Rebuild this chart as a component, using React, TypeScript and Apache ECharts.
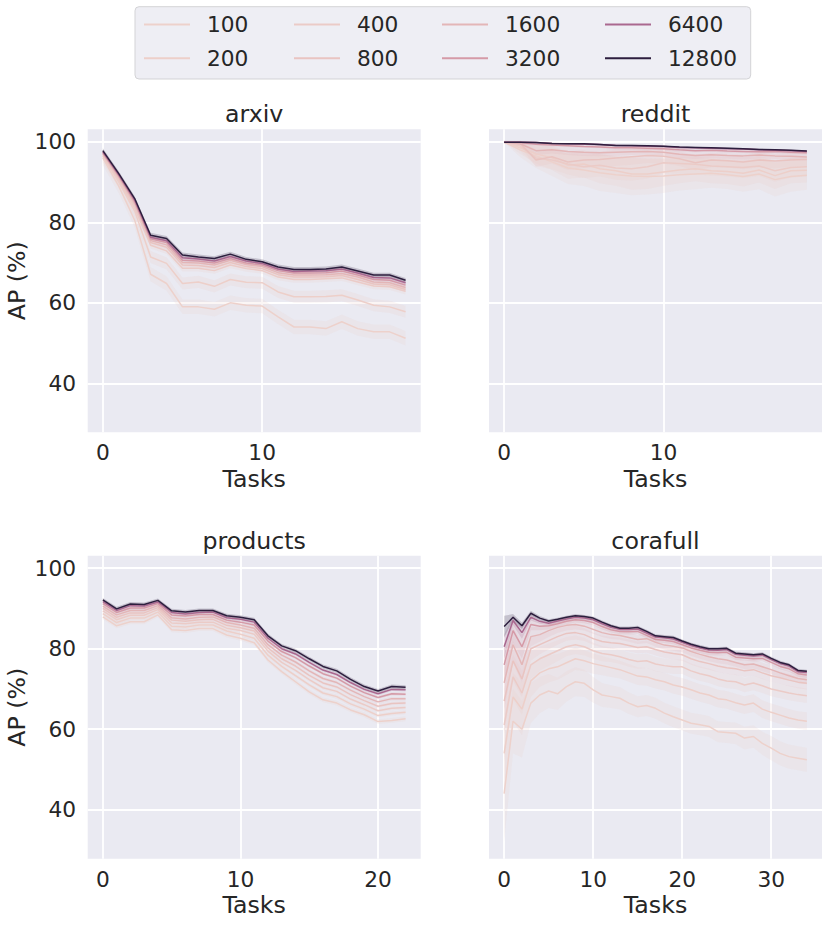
import React, { useEffect, useRef } from 'react';
import * as echarts from 'echarts';

// ---------- data ----------
const budgets = ['100', '200', '400', '800', '1600', '3200', '6400', '12800'];
const budgetValues = [100, 200, 400, 800, 1600, 3200, 6400, 12800];
const panelTitles = ['arxiv', 'reddit', 'products', 'corafull'];
const yTicks = [40, 60, 80, 100];
const arxivXTicks = [0, 10];
const redditXTicks = [0, 10];
const productsXTicks = [0, 10, 20];
const corafullXTicks = [0, 10, 20, 30];

// mean AP (%) per budget, order of `budgets`
const arxivAP = [
  [96.0, 89.0, 80.5, 67.1, 64.8, 59.0, 59.0, 58.4, 60.0, 59.4, 59.2, 56.5, 54.0, 54.0, 53.6, 55.3, 53.6, 52.8, 52.8, 51.2],
  [96.4, 90.0, 82.8, 71.4, 69.8, 64.8, 65.2, 64.1, 65.8, 65.1, 65.0, 62.7, 61.5, 61.5, 61.6, 61.9, 60.7, 59.4, 59.0, 57.8],
  [96.6, 90.5, 83.5, 74.3, 72.9, 68.6, 68.6, 68.0, 69.4, 68.5, 68.0, 66.4, 65.8, 65.8, 66.0, 66.2, 65.2, 64.2, 64.0, 62.9],
  [96.9, 91.0, 84.3, 75.0, 73.8, 69.4, 69.3, 68.8, 70.0, 69.0, 68.5, 67.0, 66.4, 66.4, 66.5, 66.8, 65.8, 64.7, 64.5, 63.3],
  [97.1, 91.3, 84.8, 75.5, 74.4, 70.0, 69.9, 69.4, 70.6, 69.5, 69.0, 67.5, 66.9, 66.9, 67.0, 67.3, 66.4, 65.2, 65.0, 63.8],
  [97.3, 91.6, 85.2, 75.9, 75.0, 70.6, 70.4, 69.9, 71.0, 69.9, 69.4, 68.0, 67.4, 67.4, 67.5, 67.9, 66.9, 65.8, 65.6, 64.4],
  [97.5, 91.8, 85.5, 76.3, 75.4, 71.2, 70.9, 70.4, 71.5, 70.4, 69.8, 68.4, 67.8, 67.9, 68.0, 68.4, 67.4, 66.3, 66.2, 65.0],
  [97.8, 92.1, 85.9, 76.8, 76.0, 71.9, 71.4, 71.0, 72.1, 70.8, 70.2, 68.9, 68.3, 68.3, 68.4, 68.9, 67.9, 66.9, 66.9, 65.6],
];
const arxivCI = [1.8, 1.5, 0.8, 0.6, 0.5, 0.5, 0.5, 0.6];

const redditAP = [
  [99.9, 98.0, 96.5, 95.0, 93.5, 93.0, 92.3, 91.8, 91.5, 91.4, 91.5, 91.8, 92.0, 92.2, 91.8, 91.4, 92.0, 90.6, 91.4, 91.7],
  [99.9, 98.5, 97.0, 96.0, 94.2, 94.5, 93.3, 92.8, 92.0, 92.0, 92.5, 93.0, 93.3, 92.8, 92.6, 92.2, 93.0, 91.6, 92.8, 92.9],
  [99.9, 99.0, 96.0, 95.5, 94.5, 93.8, 94.2, 93.5, 93.3, 93.8, 94.8, 94.6, 94.4, 94.0, 93.8, 93.6, 94.0, 92.8, 93.6, 93.8],
  [99.9, 99.6, 95.5, 96.3, 95.0, 95.5, 95.6, 96.0, 96.3, 96.6, 96.4, 95.8, 94.8, 95.5, 95.3, 95.0, 95.5, 95.2, 95.5, 95.6],
  [99.9, 99.5, 97.8, 98.0, 97.6, 97.4, 97.3, 97.4, 97.5, 97.6, 97.4, 96.9, 96.6, 96.8, 96.6, 96.5, 96.7, 96.5, 96.4, 96.2],
  [99.9, 99.8, 99.4, 99.2, 99.0, 98.8, 98.7, 98.5, 98.5, 98.4, 98.3, 98.0, 97.8, 97.9, 97.7, 97.6, 97.5, 97.6, 97.4, 97.3],
  [99.9, 99.9, 99.8, 99.6, 99.5, 99.4, 99.3, 99.1, 99.0, 98.9, 98.8, 98.6, 98.5, 98.4, 98.3, 98.2, 98.0, 97.9, 97.8, 97.6],
  [99.9, 99.9, 99.8, 99.6, 99.5, 99.5, 99.3, 99.1, 99.1, 99.0, 98.9, 98.7, 98.6, 98.5, 98.4, 98.3, 98.1, 98.0, 97.9, 97.7],
];
const redditCI = [
  [0, 1.8, 3.0, 3.5, 4.0, 4.0, 4.5, 4.5, 4.8, 4.5, 4.2, 3.9, 3.8, 3.6, 3.5, 3.8, 3.8, 4.2, 3.8, 3.6],
  [0, 1.5, 2.4, 3.0, 3.4, 3.4, 3.6, 3.7, 3.9, 3.7, 3.4, 3.3, 3.1, 3.1, 3.1, 3.3, 3.1, 3.3, 3.1, 3.0],
  [0, 1.2, 2.0, 2.3, 2.6, 2.8, 2.8, 2.9, 3.0, 2.9, 2.6, 2.5, 2.5, 2.4, 2.4, 2.6, 2.5, 2.7, 2.5, 2.4],
  [0, 0.7, 1.7, 1.7, 2.0, 2.0, 2.0, 2.0, 2.0, 1.9, 1.8, 1.8, 1.9, 1.8, 1.7, 1.8, 1.8, 1.8, 1.7, 1.7],
  [0, 0.4, 1.1, 0.9, 0.9, 0.9, 0.9, 0.9, 0.8, 0.8, 0.8, 0.9, 0.9, 0.8, 0.8, 0.9, 0.8, 0.8, 0.8, 0.8],
  0.4,
  0.2,
  0.15,
];

const productsAP = [
  [87.9, 85.7, 86.7, 86.7, 88.4, 84.7, 84.5, 85.0, 85.0, 83.4, 82.6, 81.5, 77.2, 74.3, 71.8, 69.3, 67.3, 66.5, 64.8, 63.6, 61.9, 62.2, 62.6],
  [88.7, 86.5, 87.6, 87.6, 89.1, 85.6, 85.4, 85.9, 85.9, 84.4, 83.6, 82.6, 78.4, 75.6, 73.3, 71.0, 69.0, 68.1, 66.3, 65.0, 63.4, 63.9, 64.2],
  [89.4, 87.2, 88.3, 88.3, 89.7, 86.4, 86.2, 86.6, 86.6, 85.1, 84.5, 83.6, 79.4, 76.6, 74.6, 72.3, 70.3, 69.4, 67.5, 66.1, 64.6, 65.2, 65.4],
  [90.0, 87.8, 88.9, 88.9, 90.2, 87.1, 86.8, 87.2, 87.3, 85.8, 85.2, 84.4, 80.2, 77.5, 75.7, 73.4, 71.5, 70.5, 68.6, 67.1, 65.7, 66.4, 66.5],
  [90.6, 88.4, 89.5, 89.5, 90.7, 87.7, 87.4, 87.8, 87.9, 86.5, 85.9, 85.1, 81.0, 78.4, 76.7, 74.5, 72.6, 71.6, 69.7, 68.1, 66.8, 67.6, 67.6],
  [91.2, 89.0, 90.1, 90.1, 91.2, 88.4, 88.1, 88.5, 88.5, 87.1, 86.6, 85.9, 81.9, 79.3, 77.8, 75.7, 73.8, 72.7, 70.7, 69.1, 67.9, 68.8, 68.7],
  [91.7, 89.5, 90.7, 90.6, 91.6, 89.0, 88.6, 89.0, 89.1, 87.7, 87.3, 86.6, 82.6, 80.0, 78.7, 76.6, 74.7, 73.6, 71.6, 69.9, 68.8, 69.9, 69.8],
  [92.1, 89.9, 91.1, 91.0, 92.0, 89.4, 89.1, 89.5, 89.5, 88.2, 87.8, 87.2, 83.2, 80.7, 79.5, 77.5, 75.6, 74.5, 72.4, 70.6, 69.5, 70.6, 70.4],
];
const productsCI = [0.6, 0.5, 0.5, 0.5, 0.5, 0.4, 0.4, 0.5];

const corafullAP = [
  [44.0, 62.0, 60.0, 66.5, 68.5, 69.5, 68.8, 70.6, 71.8, 71.4, 69.8, 68.5, 68.1, 67.7, 66.5, 65.6, 65.9, 65.2, 64.0, 63.1, 62.3, 61.5, 61.1, 60.7, 59.4, 59.2, 59.0, 57.8, 58.2, 56.5, 55.3, 54.0, 53.2, 52.8, 52.4],
  [54.0, 68.0, 65.0, 72.0, 74.0, 75.0, 75.5, 76.5, 77.5, 77.0, 76.3, 75.8, 75.3, 74.8, 74.0, 73.2, 73.0, 72.3, 71.8, 71.0, 70.5, 69.8, 69.0, 68.5, 67.6, 67.3, 66.6, 66.0, 66.5, 65.0, 64.2, 63.5, 62.8, 62.3, 62.0],
  [61.0, 73.0, 69.0, 76.0, 77.5, 78.5, 79.5, 80.5, 81.0, 80.5, 79.5, 78.8, 78.5, 78.0, 77.3, 76.8, 77.0, 76.2, 75.8, 75.5, 75.5, 74.5, 73.8, 73.3, 72.5, 72.0, 71.8, 71.0, 71.5, 70.8, 70.0, 69.5, 69.0, 68.6, 68.3],
  [67.0, 77.0, 72.5, 80.0, 81.0, 82.0, 83.0, 83.8, 84.0, 83.5, 82.5, 81.8, 81.5, 81.3, 80.8, 80.3, 80.5, 79.8, 79.2, 78.8, 78.5, 77.5, 76.8, 76.3, 75.7, 75.3, 75.0, 74.5, 74.8, 74.0, 73.3, 72.8, 72.2, 71.7, 71.4],
  [71.5, 81.0, 76.0, 83.0, 83.5, 84.5, 85.3, 85.8, 86.0, 85.6, 84.8, 84.0, 83.5, 83.3, 82.8, 82.3, 82.5, 81.6, 80.9, 80.6, 80.2, 79.3, 78.6, 78.0, 77.5, 77.2, 76.6, 76.0, 76.2, 75.5, 74.8, 74.0, 73.3, 72.6, 72.3],
  [76.0, 84.5, 80.5, 86.0, 85.6, 85.7, 86.2, 86.8, 87.2, 87.0, 86.5, 85.5, 84.7, 84.3, 84.2, 84.3, 83.3, 82.3, 82.1, 81.8, 81.0, 80.2, 79.6, 79.1, 79.0, 79.1, 77.9, 77.7, 77.5, 77.6, 76.6, 75.6, 75.0, 73.8, 73.5],
  [80.5, 87.0, 84.0, 87.8, 86.8, 86.3, 86.9, 87.4, 87.8, 87.6, 87.2, 86.2, 85.3, 84.8, 84.8, 84.9, 83.9, 82.9, 82.7, 82.4, 81.6, 80.8, 80.2, 79.7, 79.6, 79.8, 78.6, 78.4, 78.2, 78.4, 77.3, 76.3, 75.7, 74.3, 74.1],
  [85.5, 87.8, 85.7, 88.8, 87.6, 86.9, 87.3, 87.8, 88.2, 88.0, 87.6, 86.6, 85.7, 85.1, 85.1, 85.3, 84.3, 83.2, 83.0, 82.8, 81.9, 81.1, 80.5, 80.0, 80.0, 80.1, 78.9, 78.7, 78.5, 78.7, 77.6, 76.6, 76.0, 74.6, 74.4],
];
const corafullCI = [
  [12, 8, 7, 5, 4.5, 4.2, 4, 3.8, 3.6, 3.4, 3.2, 3, 2.8, 2.8, 2.7, 2.6, 2.6, 2.6, 2.6, 2.6, 2.6, 2.6, 2.6, 2.6, 2.6, 2.6, 2.7, 2.8, 2.8, 2.9, 3, 3, 3, 3, 3],
  [10, 6, 6.5, 4, 3.5, 3.4, 3.2, 3, 2.8, 2.6, 2.5, 2.4, 2.3, 2.2, 2.2, 2.2, 2.2, 2.2, 2.2, 2.2, 2.2, 2.2, 2.2, 2.2, 2.2, 2.2, 2.2, 2.2, 2.2, 2.2, 2.2, 2.2, 2.2, 2.2, 2.2],
  [9, 5.5, 5.5, 3.5, 3, 2.8, 2.6, 2.4, 2.3, 2.2, 2, 1.9, 1.8, 1.8, 1.8, 1.8, 1.8, 1.8, 1.8, 1.8, 1.8, 1.8, 1.8, 1.8, 1.8, 1.8, 1.8, 1.8, 1.8, 1.8, 1.8, 1.8, 1.8, 1.8, 1.8],
  [8, 5, 4.5, 3, 2.4, 2.2, 2, 1.8, 1.7, 1.6, 1.5, 1.5, 1.5, 1.5, 1.5, 1.5, 1.5, 1.5, 1.5, 1.5, 1.5, 1.5, 1.5, 1.5, 1.5, 1.5, 1.5, 1.5, 1.5, 1.5, 1.5, 1.5, 1.5, 1.5, 1.5],
  [7, 4.5, 4.5, 2.4, 1.8, 1.6, 1.4, 1.3, 1.2, 1.1, 1.1, 1.1, 1.1, 1.1, 1.1, 1.1, 1.1, 1.1, 1.1, 1.1, 1.1, 1.1, 1.1, 1.1, 1.1, 1.1, 1.1, 1.1, 1.1, 1.1, 1.1, 1.1, 1.1, 1.1, 1.1],
  [5, 3, 3, 1.4, 1, 0.9, 0.8, 0.8, 0.7, 0.7, 0.7, 0.7, 0.7, 0.7, 0.7, 0.7, 0.7, 0.7, 0.7, 0.7, 0.7, 0.7, 0.7, 0.7, 0.7, 0.7, 0.7, 0.7, 0.7, 0.7, 0.7, 0.7, 0.7, 0.7, 0.7],
  [3, 1.2, 1.5, 0.8, 0.6, 0.5, 0.5, 0.5, 0.5, 0.5, 0.5, 0.5, 0.5, 0.5, 0.5, 0.5, 0.5, 0.5, 0.5, 0.5, 0.5, 0.5, 0.5, 0.5, 0.5, 0.5, 0.5, 0.5, 0.5, 0.5, 0.5, 0.5, 0.5, 0.5, 0.5],
  [2.7, 0.8, 0.8, 0.6, 0.5, 0.4, 0.4, 0.4, 0.4, 0.4, 0.4, 0.4, 0.4, 0.4, 0.4, 0.4, 0.4, 0.4, 0.4, 0.4, 0.4, 0.4, 0.4, 0.4, 0.4, 0.4, 0.4, 0.4, 0.4, 0.4, 0.4, 0.4, 0.4, 0.4, 0.4],
];

// ---------- styling / layout ----------
const TEXT = '#262626';
const FONT = 'DejaVu Sans';
const TICK_FS = 21.7;
const LABEL_FS = 23.7;
const PLOT_W = 333;
const PLOT_H = 303;
const gridPos = [
  { left: 87.7, top: 129.3 },
  { left: 489, top: 129.3 },
  { left: 87.7, top: 555.7 },
  { left: 489, top: 555.7 },
];
const titleMidY = [114.3, 114.3, 540.7, 540.7];
const legendCols = [144, 294, 442, 605];
const Y_MIN = 27.85;
const Y_MAX = 103.1;

// seaborn default cubehelix colormap (start=0, rot=.4, hue=.8, light=.85, dark=.15)
function cubehelixColor(v: number): [number, number, number] {
  const t = (v - budgetValues[0]) / (budgetValues[budgetValues.length - 1] - budgetValues[0]);
  const x = 0.85 - 0.7 * t;
  const a = (0.8 * x * (1 - x)) / 2;
  const phi = 2 * Math.PI * (0.4 * x);
  const c = Math.cos(phi);
  const s = Math.sin(phi);
  const r = x + a * (-0.14861 * c + 1.78277 * s);
  const g = x + a * (-0.29227 * c - 0.90649 * s);
  const b = x + a * (1.97294 * c);
  const cl = (q: number) => Math.round(Math.max(0, Math.min(1, q)) * 255);
  return [cl(r), cl(g), cl(b)];
}
const colors = budgetValues.map((v) => cubehelixColor(v));
const rgb = (c: number[]) => `rgb(${c[0]},${c[1]},${c[2]})`;
const rgba = (c: number[], a: number) => `rgba(${c[0]},${c[1]},${c[2]},${a})`;

const panels = [
  { title: panelTitles[0], ap: arxivAP, ci: arxivCI as any[], ticks: arxivXTicks },
  { title: panelTitles[1], ap: redditAP, ci: redditCI as any[], ticks: redditXTicks },
  { title: panelTitles[2], ap: productsAP, ci: productsCI as any[], ticks: productsXTicks },
  { title: panelTitles[3], ap: corafullAP, ci: corafullCI as any[], ticks: corafullXTicks },
];

const ciAt = (ci: any, i: number) => (typeof ci === 'number' ? ci : ci[i]);

function buildOption() {
  const grid: any[] = [];
  const xAxis: any[] = [];
  const yAxis: any[] = [];
  const title: any[] = [];
  const series: any[] = [];

  panels.forEach((p, k) => {
    const n = p.ap[0].length;
    grid.push({
      left: gridPos[k].left,
      top: gridPos[k].top,
      width: PLOT_W,
      height: PLOT_H,
      show: true,
      backgroundColor: '#EAEAF2',
      borderWidth: 0,
      containLabel: false,
    });
    xAxis.push({
      type: 'value',
      gridIndex: k,
      min: -0.05 * (n - 1),
      max: 1.05 * (n - 1),
      axisLine: { show: false },
      axisTick: { show: false, customValues: p.ticks },
      axisLabel: {
        customValues: p.ticks,
        fontSize: TICK_FS,
        color: TEXT,
        fontFamily: FONT,
        margin: 20.6,
        verticalAlign: 'middle',
      },
      splitLine: { show: true, lineStyle: { color: '#FFFFFF', width: 1.8 } },
      name: 'Tasks',
      nameLocation: 'middle',
      nameGap: 46.5,
      nameTextStyle: { fontSize: LABEL_FS, color: TEXT, fontFamily: FONT, verticalAlign: 'middle' },
    });
    const leftCol = k % 2 === 0;
    yAxis.push({
      type: 'value',
      gridIndex: k,
      min: Y_MIN,
      max: Y_MAX,
      axisLine: { show: false },
      axisTick: { show: false, customValues: yTicks },
      axisLabel: {
        show: leftCol,
        customValues: yTicks,
        fontSize: TICK_FS,
        color: TEXT,
        fontFamily: FONT,
        margin: 11.7,
      },
      splitLine: { show: true, lineStyle: { color: '#FFFFFF', width: 1.8 } },
      name: leftCol ? 'AP (%)' : '',
      nameLocation: 'middle',
      nameRotate: 90,
      nameGap: 71,
      nameTextStyle: { fontSize: LABEL_FS, color: TEXT, fontFamily: FONT, verticalAlign: 'middle', align: 'center' },
    });
    title.push({
      text: p.title,
      left: gridPos[k].left + PLOT_W / 2,
      top: titleMidY[k],
      textAlign: 'center',
      textVerticalAlign: 'middle',
      padding: 0,
      textStyle: { fontSize: LABEL_FS, fontWeight: 'normal', color: TEXT, fontFamily: FONT },
    });

    // confidence bands
    p.ap.forEach((mean, j) => {
      const ci = p.ci[j];
      const rows = mean.map((m, i) => [i, m - ciAt(ci, i), m + ciAt(ci, i)]);
      series.push({
        type: 'custom',
        name: budgets[j] + ' band',
        xAxisIndex: k,
        yAxisIndex: k,
        coordinateSystem: 'cartesian2d',
        silent: true,
        z: 1,
        data: rows,
        encode: { x: 0, y: [1, 2] },
        renderItem: (params: any, api: any) => {
          if (params.dataIndex !== 0) return null;
          const upper = rows.map((r) => api.coord([r[0], r[2]]));
          const lower = rows.map((r) => api.coord([r[0], r[1]])).reverse();
          return {
            type: 'polygon',
            shape: { points: upper.concat(lower) },
            style: { fill: rgba(colors[j], 0.2), stroke: null },
            silent: true,
          };
        },
      });
    });
    // mean lines
    p.ap.forEach((mean, j) => {
      series.push({
        type: 'line',
        name: budgets[j],
        xAxisIndex: k,
        yAxisIndex: k,
        data: mean.map((m, i) => [i, m]),
        symbol: 'none',
        showSymbol: false,
        silent: true,
        z: 2,
        lineStyle: { width: 1.5, color: rgb(colors[j]) },
        itemStyle: { color: rgb(colors[j]) },
      });
    });
  });

  const legendGroups = [
    [budgets[0], budgets[1]],
    [budgets[2], budgets[3]],
    [budgets[4], budgets[5]],
    [budgets[6], budgets[7]],
  ];
  const legend = legendGroups.map((g, c) => ({
    orient: 'vertical',
    left: legendCols[c],
    top: 13.45,
    padding: 0,
    itemWidth: 58,
    itemHeight: 2,
    itemGap: 11.7,
    icon: 'path://M0,0H46V2H0Z M58,0L58,2',
    itemStyle: { borderWidth: 0 },
    selectedMode: false,
    data: g,
    textStyle: { fontSize: TICK_FS, color: TEXT, fontFamily: FONT, padding: 0 },
    z: 5,
  }));

  return {
    animation: false,
    textStyle: { fontFamily: FONT },
    backgroundColor: '#FFFFFF',
    grid,
    xAxis,
    yAxis,
    title,
    legend,
    graphic: [
      {
        type: 'rect',
        z: 0,
        silent: true,
        shape: { x: 135, y: 6.7, width: 615.7, height: 72.3, r: 4 },
        style: { fill: '#EEEEF4', stroke: '#D3D3D6', lineWidth: 1 },
      },
    ],
    series,
  };
}

export default function App() {
  const ref = useRef<HTMLDivElement>(null);
  useEffect(() => {
    if (!ref.current) return;
    const chart = echarts.init(ref.current, null, { renderer: 'svg' });
    chart.setOption(buildOption() as any);
    return () => chart.dispose();
  }, []);
  return (
    <div
      ref={ref}
      style={{ position: 'absolute', left: 0, top: 0, width: 830, height: 926 }}
    />
  );
}
